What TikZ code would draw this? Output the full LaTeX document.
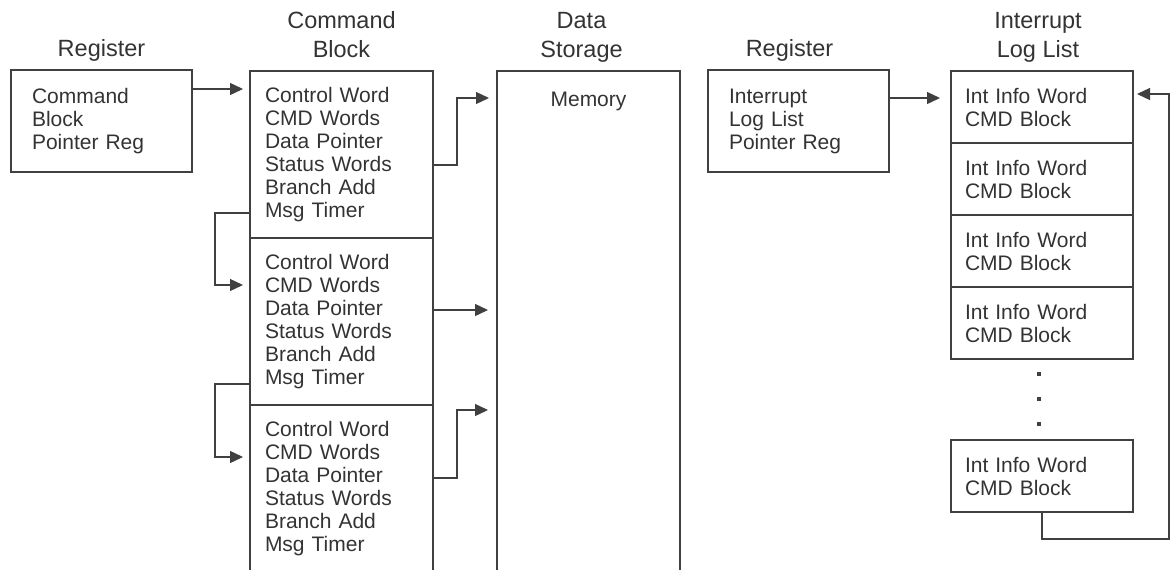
\documentclass[tikz,border=0pt]{standalone}
\usepackage{fontspec}
\setmainfont{Liberation Sans}
\usetikzlibrary{positioning, arrows.meta}
\definecolor{linegray}{HTML}{404040}
\definecolor{txtgray}{HTML}{333333}
\newcommand{\bodyfont}{\fontsize{21}{23}\selectfont}
\newcommand{\hdrfont}{\fontsize{23.5}{29}\selectfont}
\tikzset{
  boxline/.style = {draw=linegray, line width=1.3pt},
  hdr/.style = {font=\hdrfont, align=center, text=txtgray, inner sep=0pt},
  txt/.style = {font=\bodyfont, text=txtgray},
  regbox/.style = {boxline, txt, outer sep=0pt, anchor=north west, minimum width=181pt, minimum height=102pt, inner xsep=21pt, text width=139pt, align=left},
  cmdbox/.style = {txt, outer sep=0pt, minimum width=183pt, minimum height=167pt, inner xsep=15pt, text width=153pt, align=left},
  logbox/.style = {boxline, txt, outer sep=0pt, minimum width=182pt, minimum height=72pt, inner xsep=14pt, text width=154pt, align=left},
  dotsq/.style = {fill=linegray, minimum size=4pt, inner sep=0pt},
  arr/.style = {draw=linegray, line width=1.3pt, -{Triangle[length=13pt, width=12pt]}},
}

\begin{document}
\begin{tikzpicture}[x=1pt, y=-1pt]
\useasboundingbox (0,0) rectangle (1170,570);

% registers
\node[regbox] (creg) at (11,70) {Command\\Block\\Pointer Reg};
\node[regbox] (ireg) at (708,70) {Interrupt\\Log List\\Pointer Reg};

% command block column
\node[cmdbox, boxline, anchor=north west] (cb1) at (250,71) {Control Word\\CMD Words\\Data Pointer\\Status Words\\Branch Add\\Msg Timer};
\node[cmdbox, boxline, below=0pt of cb1] (cb2) {Control Word\\CMD Words\\Data Pointer\\Status Words\\Branch Add\\Msg Timer};
\node[cmdbox, below=0pt of cb2] (cb3) {Control Word\\CMD Words\\Data Pointer\\Status Words\\Branch Add\\Msg Timer};
\draw[boxline] (cb3.north west) -- ++(0,175) (cb3.north east) -- ++(0,175);

% data storage
\node[outer sep=0pt, anchor=north west, minimum width=183pt, minimum height=505pt] (ds) at (497,71) {};
\draw[boxline] (ds.south west) |- (ds.north east) -- (ds.south east);
\node[txt, anchor=base] (mem) at ([yshift=-35pt]ds.north) {Memory};

% interrupt log list
\node[logbox, anchor=north west] (ill1) at (951,71) {Int Info Word\\CMD Block};
\node[logbox, below=0pt of ill1] (ill2) {Int Info Word\\CMD Block};
\node[logbox, below=0pt of ill2] (ill3) {Int Info Word\\CMD Block};
\node[logbox, below=0pt of ill3] (ill4) {Int Info Word\\CMD Block};
\node[logbox, anchor=north west] (illn) at (951,440) {Int Info Word\\CMD Block};
\foreach \k in {1,2,3}
  \node[dotsq] (dot\k) at ([xshift=-3pt, yshift={(10-25*\k)*1pt}]ill4.south) {};

% headers
\node[hdr, above=5pt of creg] (h-creg) {Register\strut};
\node[hdr, above=5pt of cb1] (h-cb) {Command\\Block\strut};
\node[hdr, above=5pt of ds, xshift=-7pt] (h-ds) {Data\\Storage\strut};
\node[hdr, above=5pt of ireg, xshift=-9pt] (h-ireg) {Register\strut};
\node[hdr, above=5pt of ill1, xshift=-4pt] (h-ill) {Interrupt\\Log List\strut};

% links
\draw[arr] ([yshift=32pt]creg.east) -- ([xshift=-7pt,yshift=-18pt]cb1.north west);
\draw[arr] ([yshift=-10.5pt]cb1.east) -- ++(24,0) |- ([xshift=-8pt,yshift=-27pt]ds.north west);
\draw[arr] ([yshift=11.5pt]cb2.east) -- ([xshift=-9pt,yshift=-239pt]ds.north west);
\draw[arr] ([yshift=10.5pt]cb3.east) -- ++(24,0) |- ([xshift=-9pt,yshift=-339pt]ds.north west);
\draw[arr] ([yshift=-58.5pt]cb1.west) -- ++(-35,0) |- ([xshift=-7pt,yshift=36.5pt]cb2.west);
\draw[arr] ([yshift=-62.5pt]cb2.west) -- ++(-35,0) |- ([xshift=-7pt,yshift=31.5pt]cb3.west);
\draw[arr] ([yshift=23pt]ireg.east) -- ([xshift=-11pt,yshift=-27pt]ill1.north west);
\draw[arr] (illn.south) -- ++(0,27) -| ([xshift=36pt,yshift=13pt]ill1.east) -- ([xshift=4pt,yshift=13pt]ill1.east);
\end{tikzpicture}
\end{document}
